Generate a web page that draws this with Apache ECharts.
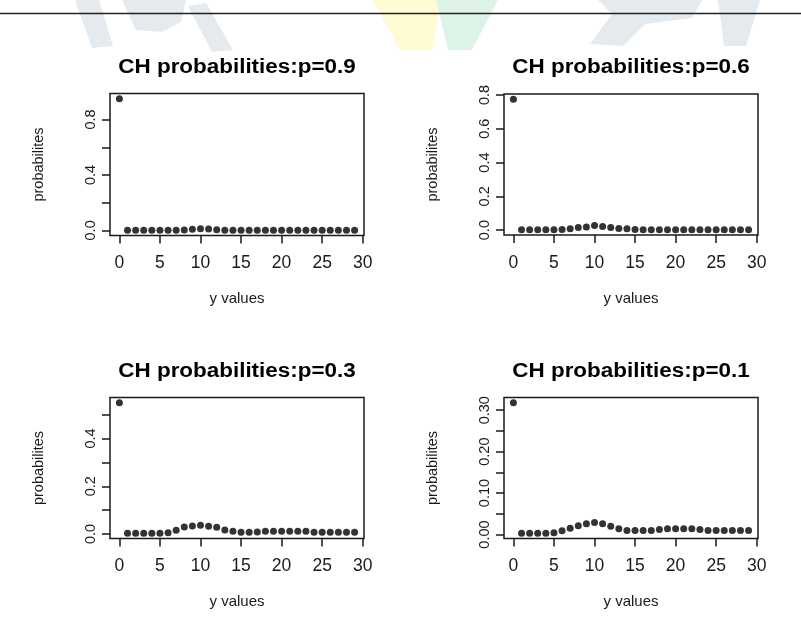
<!DOCTYPE html>
<html>
<head>
<meta charset="utf-8">
<script src="https://cdn.jsdelivr.net/npm/echarts@6/dist/echarts.min.js"></script>
<style>
html,body{margin:0;padding:0;background:#fff;}
#chart{width:801px;height:631px;}
</style>
</head>
<body>
<div id="chart"></div>
<script>
// ---- data ----
const xValues = [0,1,2,3,4,5,6,7,8,9,10,11,12,13,14,15,16,17,18,19,20,21,22,23,24,25,26,27,28,29];

const probP09 = [0.950,0.001,0.001,0.001,0.001,0.001,0.001,0.001,0.003,0.008,0.012,0.010,0.004,0.001,0.001,
                 0.001,0.001,0.001,0.001,0.001,0.001,0.001,0.001,0.001,0.001,0.001,0.001,0.001,0.001,0.001];
const probP06 = [0.775,0.002,0.002,0.002,0.002,0.002,0.003,0.008,0.015,0.019,0.028,0.022,0.016,0.010,0.008,
                 0.004,0.002,0.002,0.002,0.002,0.002,0.002,0.002,0.002,0.002,0.002,0.002,0.002,0.002,0.002];
const probP03 = [0.550,0.003,0.003,0.003,0.003,0.003,0.005,0.016,0.029,0.033,0.037,0.032,0.028,0.017,0.011,
                 0.007,0.007,0.008,0.011,0.011,0.011,0.011,0.011,0.011,0.007,0.007,0.007,0.007,0.007,0.007];
const probP01 = [0.318,0.003,0.003,0.003,0.003,0.004,0.009,0.015,0.021,0.026,0.029,0.026,0.020,0.014,0.010,
                 0.010,0.010,0.010,0.012,0.014,0.014,0.014,0.014,0.012,0.010,0.010,0.010,0.010,0.010,0.010];

const titles = ['CH probabilities:p=0.9','CH probabilities:p=0.6','CH probabilities:p=0.3','CH probabilities:p=0.1'];
const xAxisTitle = 'y values';
const yAxisTitle = 'probabilites';

const xTickValues = [0,5,10,15,20,25,30];
const yTicksP09 = [0,0.2,0.4,0.6,0.8];
const yLabelsP09 = [0,0.4,0.8];
const yTicksP06 = [0,0.2,0.4,0.6,0.8];
const yLabelsP06 = [0,0.2,0.4,0.6,0.8];
const yTicksP03 = [0,0.1,0.2,0.3,0.4,0.5];
const yLabelsP03 = [0,0.2,0.4];
const yTicksP01 = [0,0.05,0.10,0.15,0.20,0.25,0.30];
const yLabelsP01 = [0,0.10,0.20,0.30];

// ---- layout ----
const panels = [
  {series: probP09, yTicks: yTicksP09, yLabels: yLabelsP09, dec: 1, left: 110, top: 93.5, width: 254, height: 142},
  {series: probP06, yTicks: yTicksP06, yLabels: yLabelsP06, dec: 1, left: 504, top: 94, width: 254, height: 141},
  {series: probP03, yTicks: yTicksP03, yLabels: yLabelsP03, dec: 1, left: 110, top: 397.5, width: 254, height: 141},
  {series: probP01, yTicks: yTicksP01, yLabels: yLabelsP01, dec: 2, left: 504, top: 397.5, width: 254, height: 141}
];

// R-style axis extent: data range extended 4% each side
function rRange(arr){
  const mn = Math.min.apply(null, arr), mx = Math.max.apply(null, arr);
  const d = (mx - mn) * 0.04;
  return [mn - d, mx + d];
}

const ink = '#1a1a1a';
const font = '"Liberation Sans", Arial, sans-serif';
const grids = [], xAxes = [], yAxes = [], series = [], graphics = [];

// faint background watermark of the source page (decoration only)
const wmGray = '#e4eaed', wmYellow = '#fffbd3', wmGreen = '#def3e7';
const watermark = [
  {c: wmGray,   pts: [[75,0],[99,0],[113,46],[92,48]]},
  {c: wmGray,   pts: [[122,0],[186,0],[181,22],[162,32],[136,30]]},
  {c: wmGray,   pts: [[188,6],[206,3],[233,50],[212,52]]},
  {c: wmYellow, pts: [[373,0],[440,0],[432,50],[400,50]]},
  {c: wmGreen,  pts: [[436,0],[498,0],[472,50],[448,50]]},
  {c: wmGray,   pts: [[598,0],[702,0],[692,18],[645,24],[623,46],[590,44],[612,14]]},
  {c: wmGray,   pts: [[718,0],[760,0],[746,46],[724,46]]}
];
watermark.forEach(w => graphics.push({type: 'polygon', z: -10, silent: true,
  shape: {points: w.pts}, style: {fill: w.c}}));

panels.forEach((p, i) => {
  grids.push({
    left: p.left, top: p.top, width: p.width, height: p.height,
    show: true, borderColor: ink, borderWidth: 1.5, backgroundColor: 'transparent',
    containLabel: false, outerBoundsMode: 'none'
  });
  const xr = rRange(xValues);
  const yr = rRange(p.series);
  xAxes.push({
    type: 'value', gridIndex: i, min: xr[0], max: xr[1], position: 'bottom',
    splitLine: {show: false},
    axisLine: {show: false, onZero: false},
    axisTick: {show: true, customValues: xTickValues, length: 8, inside: false, lineStyle: {color: ink, width: 1.5}},
    axisLabel: {show: true, customValues: xTickValues, margin: 19, color: ink,
                fontFamily: font, fontSize: 17.5},
    name: xAxisTitle, nameLocation: 'middle', nameGap: 56,
    nameTextStyle: {color: ink, fontFamily: font, fontSize: 15}
  });
  yAxes.push({
    type: 'value', gridIndex: i, min: yr[0], max: yr[1], position: 'left',
    splitLine: {show: false},
    axisLine: {show: false, onZero: false},
    axisTick: {show: true, customValues: p.yTicks, length: 8, inside: false, lineStyle: {color: ink, width: 1.5}},
    axisLabel: {show: true, customValues: p.yLabels, rotate: 90, margin: 12, color: ink,
                fontFamily: font, fontSize: 14.5,
                formatter: (v) => Number(v).toFixed(p.dec)},
    name: yAxisTitle, nameLocation: 'middle', nameGap: 64,
    nameTextStyle: {color: ink, fontFamily: font, fontSize: 14.5}
  });
  series.push({
    type: 'scatter', xAxisIndex: i, yAxisIndex: i,
    data: xValues.map((x, j) => [x, p.series[j]]),
    symbol: 'circle', symbolSize: 7,
    itemStyle: {color: '#000'},
    emphasis: {disabled: true}
  });
  graphics.push({
    type: 'text', x: p.left + p.width / 2, y: p.top - 26, scaleX: 1.15,
    style: {text: titles[i], font: 'bold 19.5px "Liberation Sans", Arial, sans-serif',
            fill: '#000', align: 'center', verticalAlign: 'middle',
            textAlign: 'center', textVerticalAlign: 'middle'}
  });
});

// top rule line of the page
graphics.push({type: 'line', shape: {x1: 0, y1: 13.5, x2: 801, y2: 13.5}, style: {stroke: '#222', lineWidth: 1.5}});

const chart = echarts.init(document.getElementById('chart'), null, {renderer: 'canvas'});
chart.setOption({
  animation: false,
  backgroundColor: '#fff',
  grid: grids,
  xAxis: xAxes,
  yAxis: yAxes,
  series: series,
  graphic: graphics
});
</script>
</body>
</html>
